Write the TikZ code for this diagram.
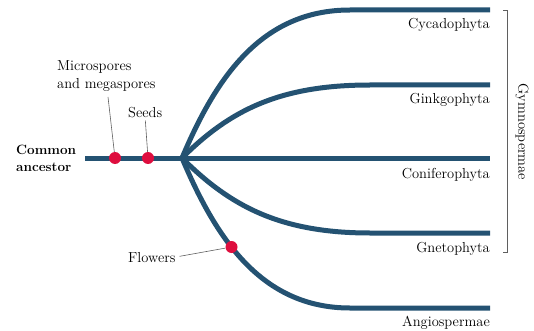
\documentclass[tikz,border=0pt]{standalone}
\usepackage{tikz}
\usetikzlibrary{positioning,calc}
\definecolor{treeBlue}{RGB}{36,82,114}
\definecolor{traitRed}{RGB}{222,14,62}
\definecolor{leadGray}{RGB}{95,95,95}
\newcommand{\lblfont}{\fontsize{14.5}{18}\selectfont}

\begin{document}
\begin{tikzpicture}[x=1pt,y=-1pt,
  branch/.style={treeBlue,line width=5pt},
  trait/.style={circle,fill=traitRed,inner sep=0pt,minimum size=12pt},
  taxon/.style={font=\lblfont,anchor=base east,inner sep=0pt},
  note/.style={font=\lblfont,align=left,inner sep=0pt},
  leader/.style={leadGray,line width=0.6pt}]
  \useasboundingbox (0,0) rectangle (534,331);
  \coordinate (stem) at (85,158);
  \coordinate (root) at (182,158);
  \coordinate (cyc) at (490,10);
  \coordinate (gin) at (490,85);
  \coordinate (con) at (490,158);
  \coordinate (gne) at (490,233);
  \coordinate (ang) at (490,308);
  % branches of the tree
  \draw[branch] (stem) -- (root);
  \draw[branch] (root) .. controls (215,80) and (260,10) .. (350,10) -- (cyc);
  \draw[branch] (root) .. controls (230,110) and (280,85) .. (370,85) -- (gin);
  \draw[branch] (root) -- (con);
  \draw[branch] (root) .. controls (230,206) and (280,233) .. (370,233) -- (gne);
  \draw[branch] (root) .. controls (215,236) and (260,308) .. (350,308) -- (ang);
  % traits
  \node[trait] (spores) at (115,158) {};
  \node[trait] (seeds) at (148,158) {};
  \node[trait] (flw) at (231.5,247) {};
  \node[font=\fontsize{13.5}{17}\selectfont\bfseries,align=left,inner sep=0pt,anchor=west] (anc) at (16,158) {Common\\ancestor};
  \node[note,anchor=north west] (micLbl) at (57,60) {Microspores\\and megaspores};
  \node[note,anchor=base west] (seedLbl) at (128,118) {Seeds};
  \node[note,anchor=base west] (flwLbl) at (128,262) {Flowers};
  \coordinate (micTip) at (108,97);
  \draw[leader] (micTip) -- (spores);
  \draw[leader,shorten <=2pt] (seedLbl.south) -- (seeds);
  \draw[leader,shorten <=4pt] (flwLbl.east) -- (flw);
  % taxa
  \node[taxon] (cycLbl) at (490,29) {Cycadophyta};
  \node[taxon] (ginLbl) at (490,104) {Ginkgophyta};
  \node[taxon] (conLbl) at (490,178) {Coniferophyta};
  \node[taxon] (gneLbl) at (490,252) {Gnetophyta};
  \node[taxon] (angLbl) at (490,326) {Angiospermae};
  \coordinate (gymTop) at (507,10);
  \coordinate (gymBot) at (507,252);
  \draw[leadGray,line width=0.7pt] ($(gymTop)+(-4,0)$) -- (gymTop) -- (gymBot) -- ++(-4,0);
  \node[font=\lblfont,rotate=-90,inner sep=0pt] (gymLbl) at (522,132) {Gymnospermae};
\end{tikzpicture}
\end{document}
